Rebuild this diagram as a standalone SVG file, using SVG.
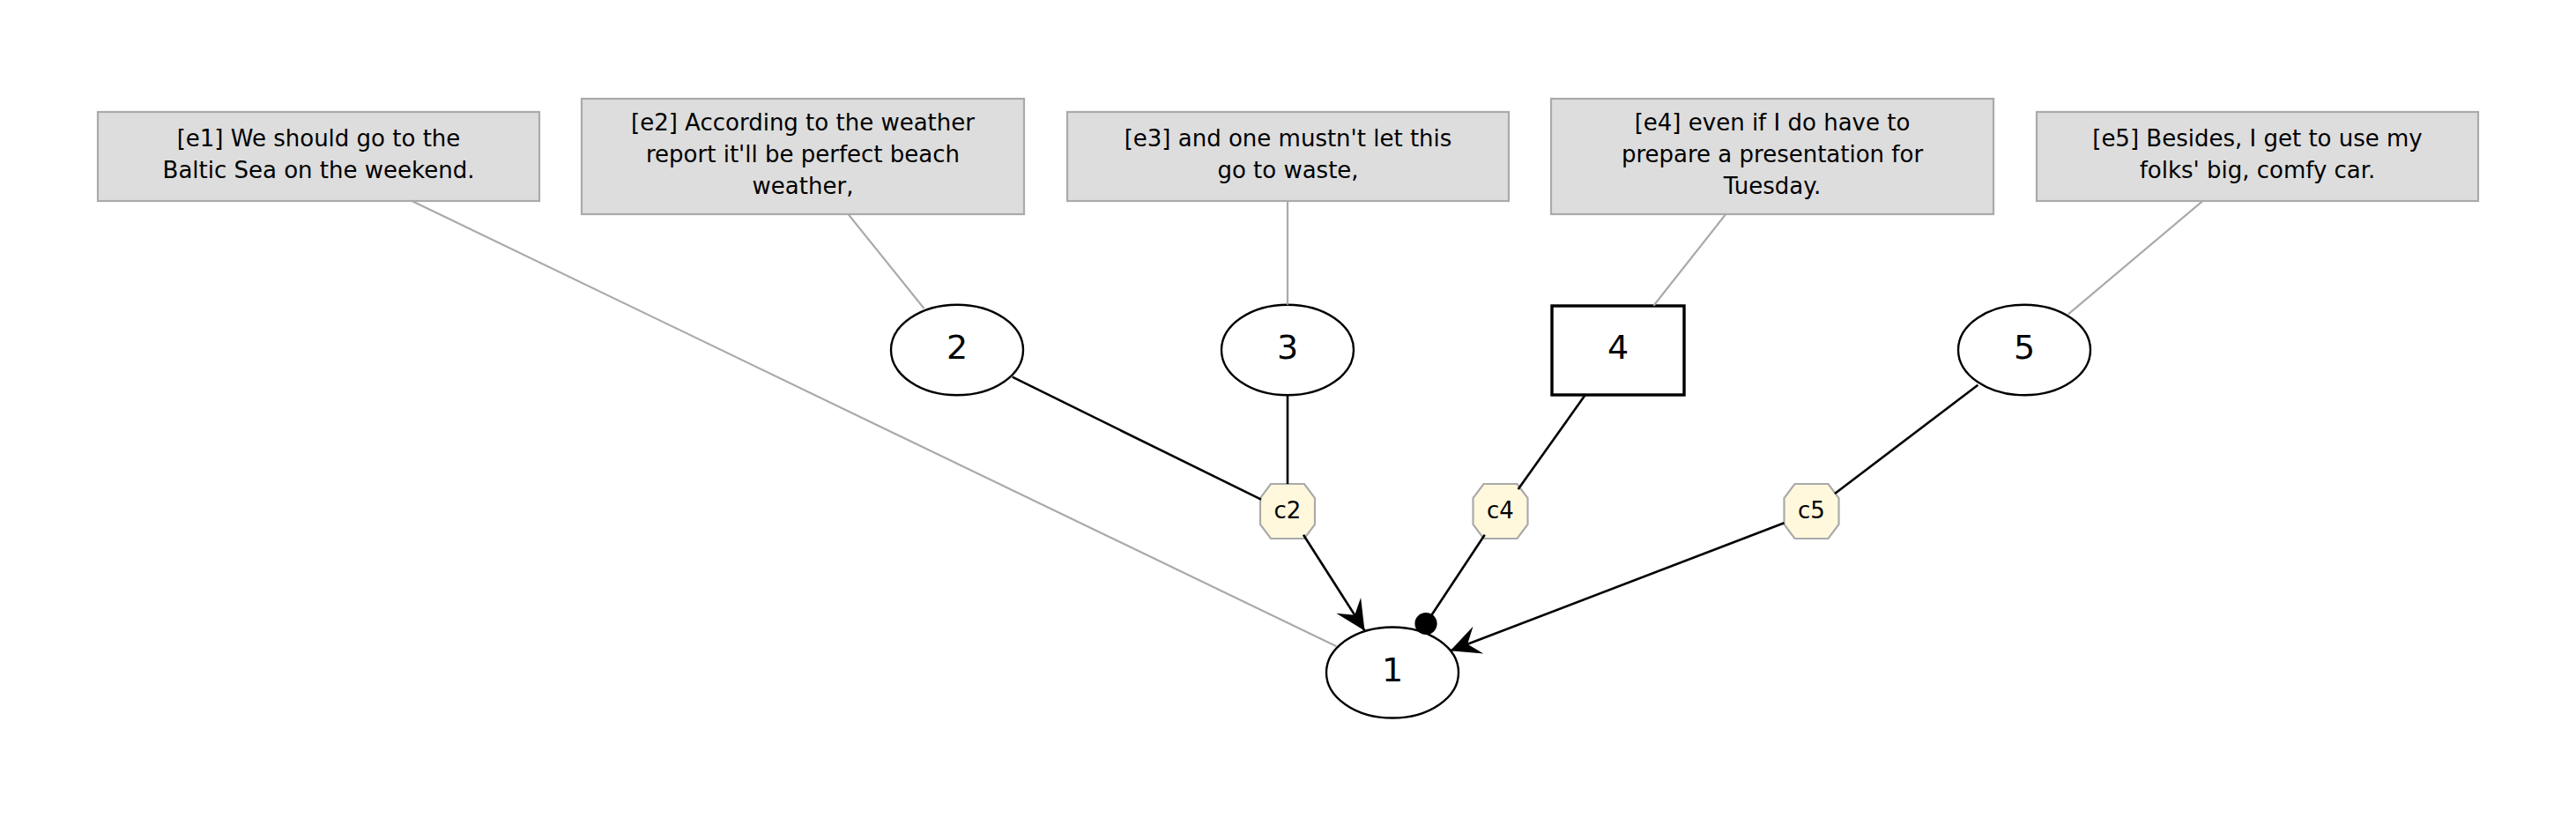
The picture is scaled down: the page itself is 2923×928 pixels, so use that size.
<svg xmlns="http://www.w3.org/2000/svg" xmlns:xlink="http://www.w3.org/1999/xlink" width="2923" height="928" viewBox="0 0 2923 928">
<style>
  .box { fill: #dddddd; stroke: #aaaaaa; stroke-width: 2.2; }
  .btxt { font-family: "DejaVu Sans", "Liberation Sans", sans-serif; font-size: 26px; fill: #000; text-anchor: middle; }
  .num { font-family: "DejaVu Sans", "Liberation Sans", sans-serif; font-size: 38px; fill: #000; text-anchor: middle; }
  .ctxt { font-family: "DejaVu Sans", "Liberation Sans", sans-serif; font-size: 26px; fill: #000; text-anchor: middle; }
  .node { fill: #ffffff; stroke: #000000; stroke-width: 2.4; }
  .rnode { fill: #ffffff; stroke: #000000; stroke-width: 3.4; }
  .oct { fill: #fff8dc; stroke: #aaaaaa; stroke-width: 2.2; }
  .gray { stroke: #aaaaaa; stroke-width: 2.2; fill: none; }
  .blk { stroke: #000000; stroke-width: 2.6; fill: none; }
</style>
<defs>
  <polygon id="octshape" points="-19,-31 19,-31 31,-15 31,15 19,31 -19,31 -31,15 -31,-15"/>
  <marker id="vee" markerUnits="userSpaceOnUse" viewBox="-40 -20 44 40" markerWidth="44" markerHeight="40" refX="0" refY="0" orient="auto">
    <path d="M0,0 L-34,-16.5 L-21,0 L-34,16.5 Z" fill="#000000"/>
  </marker>
  <marker id="dot" markerUnits="userSpaceOnUse" viewBox="-14 -14 28 28" markerWidth="28" markerHeight="28" refX="0" refY="0" orient="auto">
    <circle cx="0" cy="0" r="12.6" fill="#000000"/>
  </marker>
</defs>
<rect x="0" y="0" width="2923" height="928" fill="#ffffff"/>

<g id="e1">
  <rect class="box" x="111" y="127" width="501" height="101"/>
  <text class="btxt" x="361.5" y="166">[e1] We should go to the</text>
  <text class="btxt" x="361.5" y="202">Baltic Sea on the weekend.</text>
</g>
<g id="e2">
  <rect class="box" x="660" y="112" width="502" height="131"/>
  <text class="btxt" x="911" y="148">[e2] According to the weather</text>
  <text class="btxt" x="911" y="184">report it'll be perfect beach</text>
  <text class="btxt" x="911" y="219.5">weather,</text>
</g>
<g id="e3">
  <rect class="box" x="1211" y="127" width="501" height="101"/>
  <text class="btxt" x="1461.5" y="166">[e3] and one mustn't let this</text>
  <text class="btxt" x="1461.5" y="202">go to waste,</text>
</g>
<g id="e4">
  <rect class="box" x="1760" y="112" width="502" height="131"/>
  <text class="btxt" x="2011" y="148">[e4] even if I do have to</text>
  <text class="btxt" x="2011" y="184">prepare a presentation for</text>
  <text class="btxt" x="2011" y="219.5">Tuesday.</text>
</g>
<g id="e5">
  <rect class="box" x="2311" y="127" width="501" height="101"/>
  <text class="btxt" x="2561.5" y="166">[e5] Besides, I get to use my</text>
  <text class="btxt" x="2561.5" y="202">folks' big, comfy car.</text>
</g>

<g id="n1">
  <ellipse class="node" cx="1580" cy="763" rx="75" ry="51.5"/>
  <text class="num" x="1580" y="773">1</text>
</g>
<g id="n2">
  <ellipse class="node" cx="1086" cy="397" rx="75" ry="51.3"/>
  <text class="num" x="1086" y="407">2</text>
</g>
<g id="n3">
  <ellipse class="node" cx="1461" cy="397" rx="75" ry="51.3"/>
  <text class="num" x="1461" y="407">3</text>
</g>
<g id="n4">
  <rect class="rnode" x="1761" y="347" width="150" height="101"/>
  <text class="num" x="1836" y="407">4</text>
</g>
<g id="n5">
  <ellipse class="node" cx="2297" cy="397" rx="75" ry="51.3"/>
  <text class="num" x="2297" y="407">5</text>
</g>
<g id="c2">
  <use xlink:href="#octshape" href="#octshape" class="oct" x="1461" y="580"/>
  <text class="ctxt" x="1461" y="587.5">c2</text>
</g>
<g id="c4">
  <use xlink:href="#octshape" href="#octshape" class="oct" x="1702.5" y="580"/>
  <text class="ctxt" x="1702.5" y="587.5">c4</text>
</g>
<g id="c5">
  <use xlink:href="#octshape" href="#octshape" class="oct" x="2055.5" y="580"/>
  <text class="ctxt" x="2055.5" y="587.5">c5</text>
</g>

<g id="connectors">
  <line class="gray" x1="466.8" y1="227.7" x2="1516.5" y2="733.3"/>
  <line class="gray" x1="962.7" y1="243.3" x2="1048.5" y2="350"/>
  <line class="gray" x1="1461" y1="228" x2="1461" y2="345.7"/>
  <line class="gray" x1="1958" y1="243.3" x2="1876.4" y2="346.7"/>
  <line class="gray" x1="2499" y1="228.3" x2="2346.7" y2="356.7"/>
  <line class="blk" x1="1148.7" y1="427.7" x2="1431" y2="566.7"/>
  <line class="blk" x1="1461" y1="448.3" x2="1461" y2="549"/>
  <line class="blk" x1="1479" y1="606.7" x2="1548.5" y2="715.5" marker-end="url(#vee)"/>
  <line class="blk" x1="1798.6" y1="448.3" x2="1722.7" y2="555"/>
  <line class="blk" x1="1684.7" y1="606.7" x2="1618" y2="707.5" marker-end="url(#dot)"/>
  <line class="blk" x1="2244.4" y1="436.7" x2="2082" y2="560"/>
  <line class="blk" x1="2024.5" y1="593.3" x2="1645.6" y2="738.3" marker-end="url(#vee)"/>
</g>
</svg>
